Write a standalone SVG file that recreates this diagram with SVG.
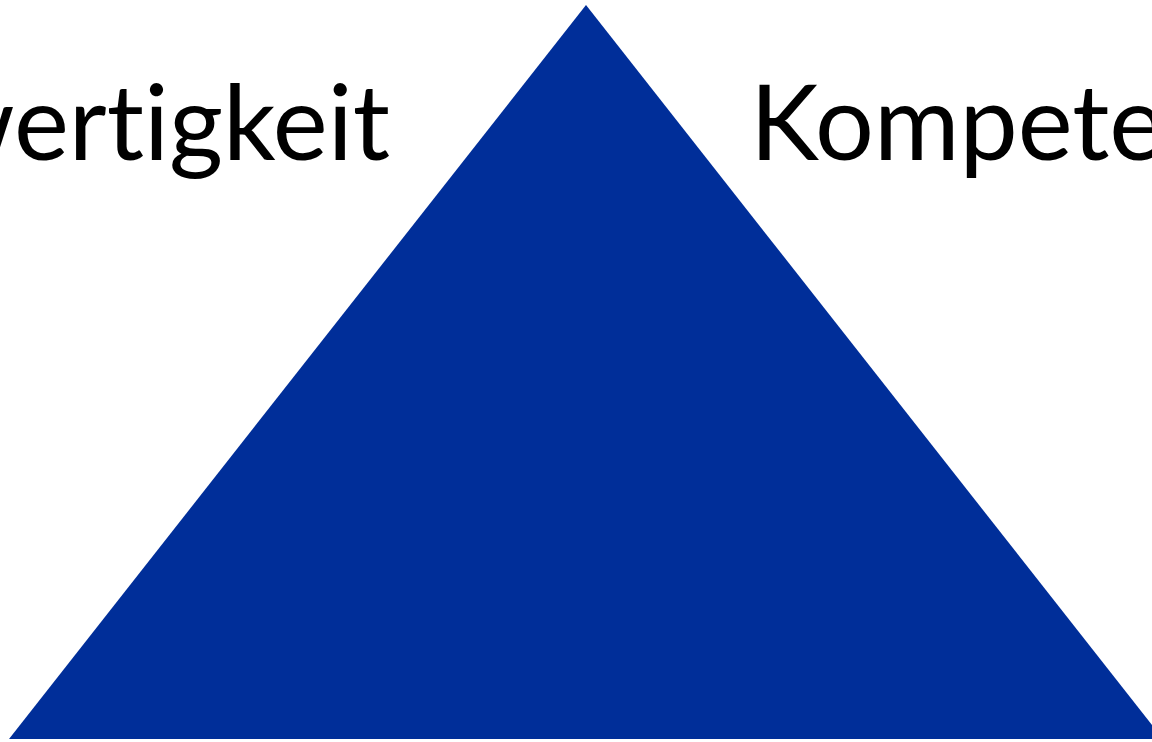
<svg xmlns="http://www.w3.org/2000/svg" width="1152" height="742" viewBox="0 0 1152 742">
<style>
.lbl{font-family:"Lato","Open Sans","Liberation Sans",sans-serif;font-size:104px;fill:#000;font-variant-ligatures:none;font-feature-settings:"liga" 0}
</style>
<rect width="1152" height="742" fill="#fff"/>
<g id="triangle">
<polygon points="586,5 9,739 1163,739" fill="#002e99"/>
</g>
<g id="label-left">
<text class="lbl" x="390" y="160" text-anchor="end">Gleichwertigkeit</text>
</g>
<g id="label-right">
<text class="lbl" x="750" y="160">Kompetenz</text>
</g>
</svg>
